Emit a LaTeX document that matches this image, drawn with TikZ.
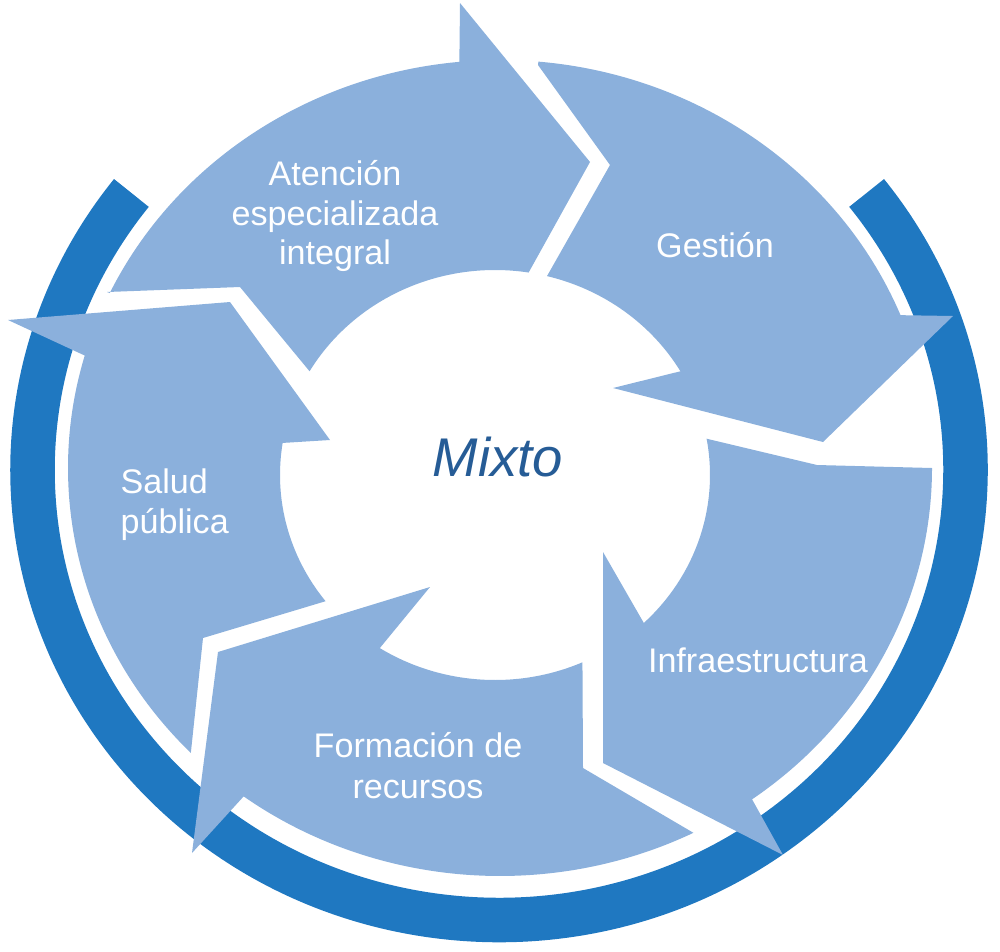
\documentclass[tikz,border=0pt]{standalone}
\usepackage{fontspec}
\setmainfont{Liberation Sans}
\definecolor{ringblue}{RGB}{31,120,193}
\definecolor{arrowblue}{RGB}{139,176,220}
\definecolor{mixtoblue}{RGB}{38,92,150}
\tikzset{
  arrowshape/.style={fill=arrowblue},
  ringstyle/.style={draw=ringblue, line width=0.445cm},
  lbl/.style={text=white, font=\fontsize{9.7}{11.5}\selectfont, inner sep=0pt, anchor=base},
  centerlbl/.style={text=mixtoblue, font=\fontsize{15.5}{18}\selectfont\itshape, inner sep=0pt, anchor=base},
  inner/.style={x radius=215, y radius=205},
  outer/.style={x radius=432, y radius=408}
}
\begin{document}
\begin{tikzpicture}[x=0.01cm,y=-0.01cm]
\useasboundingbox (0,0) rectangle (1000,951);
% outer dark ring
\draw[ringstyle] ([shift={(499,470)}]-38:466.5 and 450) arc[start angle=-38, end angle=218, x radius=466.5, y radius=450];
% Atencion especializada integral
\fill[arrowshape] (107,292) -- (240,287) -- ([shift={(495,475)}]210.4:215 and 205) arc[start angle=210.4, end angle=279, inner] -- (590,162) -- (460,3) -- ([shift={(500,468)}]264.6:432 and 408) arc[start angle=264.6, end angle=205.4, outer] -- cycle;
% Gestion
\fill[arrowshape] (538,65) -- (610,165) -- ([shift={(495,475)}]284:215 and 205) arc[start angle=284, end angle=329.6, inner] -- (613,388) -- (823,442) -- (953,316) -- ([shift={(500,468)}]338:432 and 408) arc[start angle=338, end angle=275.1, outer] -- cycle;
% Infraestructura
\fill[arrowshape] ([shift={(500,468)}]0:432 and 408) -- (817,465) -- ([shift={(495,475)}]-10.2:215 and 205) arc[start angle=-10.2, end angle=46.2, inner] -- (603,552) -- (603,763) -- (783,855) -- ([shift={(500,468)}]54.3:432 and 408) arc[start angle=54.3, end angle=0, outer] -- cycle;
% Formacion de recursos
\fill[arrowshape] ([shift={(500,468)}]63.4:432 and 408) -- (583,768) -- ([shift={(495,475)}]66:215 and 205) arc[start angle=66, end angle=122.4, inner] -- (430,587) -- (218,652) -- (192,853) -- ([shift={(500,468)}]126.4:432 and 408) arc[start angle=126.4, end angle=63.4, outer] -- cycle;
% Salud publica
\fill[arrowshape] ([shift={(500,468)}]135.7:432 and 408) -- (203,638) -- ([shift={(495,475)}]142:215 and 205) arc[start angle=142, end angle=189, inner] -- (330,440) -- (230,302) -- (8,320) -- ([shift={(500,468)}]196:432 and 408) arc[start angle=196, end angle=135.7, outer] -- cycle;
% labels
\node[lbl] (aten1) at (335,185) {Atención};
\node[lbl] (aten2) at (335,225) {especializada};
\node[lbl] (aten3) at (335,264) {integral};
\node[lbl] (gest) at (715,257) {Gestión};
\node[lbl, anchor=base west] (salud1) at (120,493) {Salud};
\node[lbl, anchor=base west] (salud2) at (120,533) {pública};
\node[lbl] (infra) at (758,672) {Infraestructura};
\node[lbl] (form1) at (418,757) {Formación de};
\node[lbl] (form2) at (418,798) {recursos};
\node[centerlbl] (mixto) at (498,476) {Mixto};
\end{tikzpicture}
\end{document}
